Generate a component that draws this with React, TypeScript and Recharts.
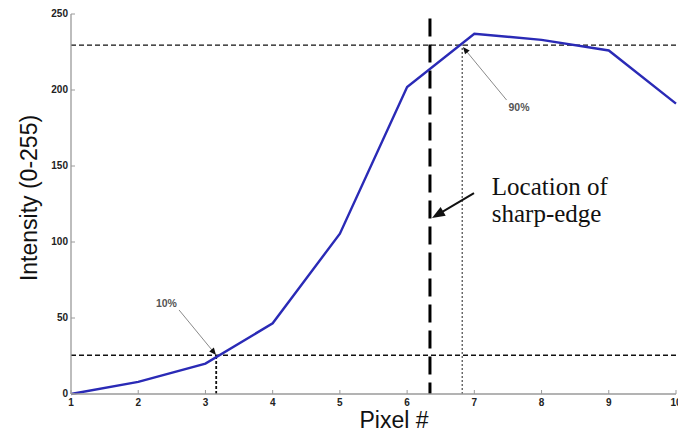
import React from "react";
import { LineChart, Line, XAxis, YAxis, ReferenceLine, ReferenceDot } from "recharts";

// pixel index vs. intensity profile across the edge
const pixels = [1, 2, 3, 4, 5, 6, 7, 8, 9, 10];
const intensity = [0, 8, 20, 46.5, 105.5, 202, 237, 233, 226, 191];
const xTicks = [1, 2, 3, 4, 5, 6, 7, 8, 9, 10];
const yTicks = [0, 50, 100, 150, 200, 250];

const level10 = 25.5;
const level90 = 229.5;
const cross10 = 3.16;
const cross90 = 6.82;
const edgeX = 6.34;
const edgeTop = 247;

const rows = pixels.map((p, i) => ({ pixel: p, value: intensity[i] }));

const AXIS = "#9a9a9a";
const TICK_FONT = { fontFamily: "Liberation Sans, Arial, sans-serif", fontSize: 10, fontWeight: 700, fill: "#222" };

function BottomTick({ x, y, payload }: any) {
  return (
    <g>
      <line x1={x} y1={y} x2={x} y2={y - 4} stroke={AXIS} />
      <text x={x} y={y + 12} textAnchor="middle" {...TICK_FONT}>
        {payload.value}
      </text>
    </g>
  );
}

function TopTick({ x, y }: any) {
  return <line x1={x} y1={y} x2={x} y2={y + 4} stroke={AXIS} />;
}

function LeftTick({ x, y, payload }: any) {
  return (
    <g>
      <line x1={x} y1={y} x2={x + 4} y2={y} stroke={AXIS} />
      <text x={x - 3} y={y + 3} textAnchor="end" {...TICK_FONT}>
        {payload.value}
      </text>
    </g>
  );
}

function RightTick({ x, y }: any) {
  return <line x1={x} y1={y} x2={x - 4} y2={y} stroke={AXIS} />;
}

function arrow(color: string, width: number, head: number, half: number) {
  return (p: any) => {
    const { x1, y1, x2, y2 } = p;
    const dx = x2 - x1;
    const dy = y2 - y1;
    const len = Math.sqrt(dx * dx + dy * dy) || 1;
    const ux = dx / len;
    const uy = dy / len;
    const bx = x2 - ux * head;
    const by = y2 - uy * head;
    const pts = `${x2},${y2} ${bx - uy * half},${by + ux * half} ${bx + uy * half},${by - ux * half}`;
    return (
      <g>
        <line x1={x1} y1={y1} x2={bx + ux} y2={by + uy} stroke={color} strokeWidth={width} />
        <polygon points={pts} fill="#111" />
      </g>
    );
  };
}

function smallLabel(text: string) {
  return (p: any) => (
    <text x={p.cx} y={p.cy} textAnchor="middle" {...TICK_FONT} fontSize={10.5} fill="#555">
      {text}
    </text>
  );
}

function edgeLabel(p: any) {
  return (
    <text x={p.cx} y={p.cy} fontFamily="Liberation Serif, Times New Roman, serif" fontSize={25} fill="#111">
      <tspan x={p.cx}>Location of</tspan>
      <tspan x={p.cx} dy={27}>sharp-edge</tspan>
    </text>
  );
}

export default function App() {
  return (
    <div style={{ position: "absolute", left: 0, top: 0, width: 678, height: 432, background: "#fff" }}>
      <LineChart width={678} height={432} data={rows} margin={{ top: 14, right: 2, bottom: 0, left: 0 }}>
        <XAxis
          dataKey="pixel"
          type="number"
          domain={[1, 10]}
          ticks={xTicks}
          interval={0}
          height={38}
          tickSize={0}
          tickMargin={0}
          tickLine={false}
          stroke={AXIS}
          strokeWidth={1.3}
          tick={<BottomTick />}
          label={{
            value: "Pixel #",
            content: (p: any) => (
              <text
                x={p.viewBox.x + 323}
                y={p.viewBox.y + 34}
                textAnchor="middle"
                fontFamily="Liberation Sans, Arial, sans-serif"
                fontSize={23}
                fill="#111"
              >
                Pixel #
              </text>
            ),
          }}
        />
        <XAxis
          xAxisId="top"
          dataKey="pixel"
          type="number"
          orientation="top"
          domain={[1, 10]}
          ticks={xTicks}
          interval={0}
          height={0}
          tickSize={0}
          tickMargin={0}
          tickLine={false}
          stroke={AXIS}
          strokeWidth={1.3}
          tick={<TopTick />}
        />
        <YAxis
          type="number"
          domain={[0, 250]}
          ticks={yTicks}
          interval={0}
          width={71}
          tickSize={0}
          tickMargin={0}
          tickLine={false}
          stroke={AXIS}
          strokeWidth={1.3}
          tick={<LeftTick />}
          label={{
            value: "Intensity (0-255)",
            content: (p: any) => {
              const cx = p.viewBox.x + 37;
              const cy = p.viewBox.y + 184;
              return (
                <text
                  x={cx}
                  y={cy}
                  transform={`rotate(-90, ${cx}, ${cy})`}
                  textAnchor="middle"
                  fontFamily="Liberation Sans, Arial, sans-serif"
                  fontSize={23}
                  fill="#111"
                >
                  Intensity (0-255)
                </text>
              );
            },
          }}
        />
        <YAxis
          yAxisId="right"
          orientation="right"
          type="number"
          domain={[0, 250]}
          ticks={yTicks}
          interval={0}
          width={0}
          tickSize={0}
          tickMargin={0}
          tickLine={false}
          axisLine={false}
          tick={<RightTick />}
        />

        <ReferenceLine y={level90} stroke="#111" strokeDasharray="5 3" strokeWidth={1.4} />
        <ReferenceLine y={level10} stroke="#111" strokeDasharray="5 3" strokeWidth={1.4} />
        <ReferenceLine
          segment={[{ x: cross10, y: 0 }, { x: cross10, y: level10 }]}
          stroke="#111"
          strokeDasharray="3 2"
          strokeWidth={1.8}
        />
        <ReferenceLine
          segment={[{ x: cross90, y: 0 }, { x: cross90, y: level90 }]}
          stroke="#555"
          strokeDasharray="2 2"
          strokeWidth={1.3}
        />
        <ReferenceLine
          segment={[{ x: edgeX, y: edgeTop }, { x: edgeX, y: 0 }]}
          stroke="#000"
          strokeDasharray="18 8"
          strokeWidth={3}
        />

        <Line
          type="linear"
          dataKey="value"
          stroke="#2a2ab6"
          strokeWidth={2.4}
          dot={false}
          activeDot={false}
          isAnimationActive={false}
        />

        <ReferenceLine
          segment={[{ x: 2.607, y: 55.3 }, { x: 3.157, y: 25.7 }]}
          shape={arrow("#8a8a8a", 1, 7, 3)}
        />
        <ReferenceLine
          segment={[{ x: 7.48, y: 193.4 }, { x: 6.83, y: 228.3 }]}
          shape={arrow("#8a8a8a", 1, 7, 3)}
        />
        <ReferenceLine
          segment={[{ x: 6.995, y: 132.2 }, { x: 6.37, y: 115.8 }]}
          shape={arrow("#111", 2, 13, 5)}
        />

        <ReferenceDot x={2.42} y={57.2} r={1} shape={smallLabel("10%")} />
        <ReferenceDot x={7.665} y={186.2} r={1} shape={smallLabel("90%")} />
        <ReferenceDot x={7.26} y={130.9} r={1} shape={edgeLabel} />
      </LineChart>
    </div>
  );
}
